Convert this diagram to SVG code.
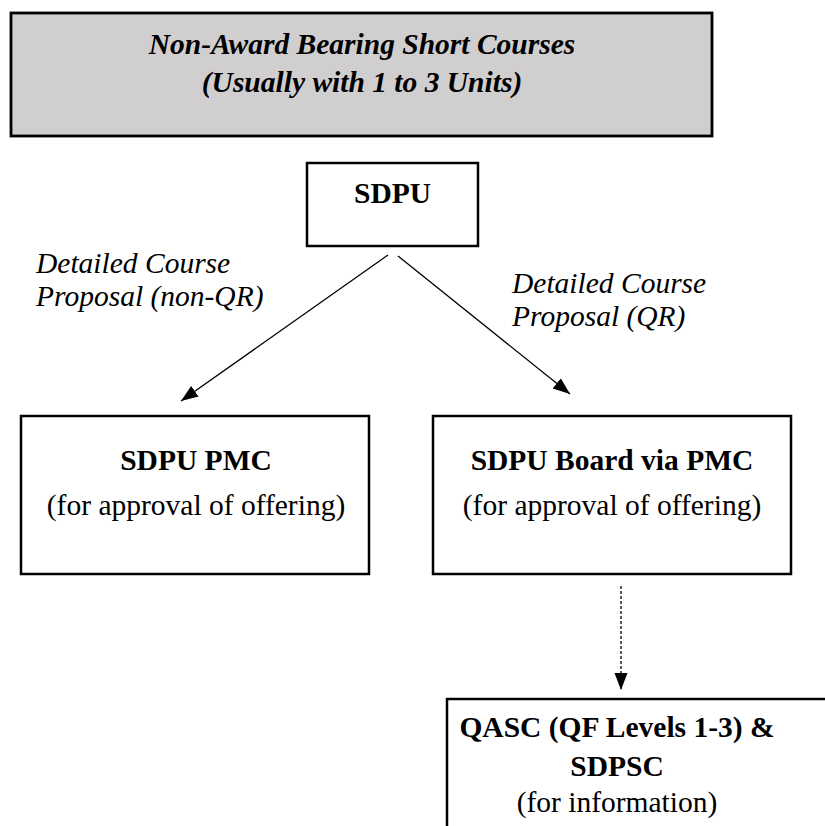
<svg xmlns="http://www.w3.org/2000/svg" width="825" height="826" viewBox="0 0 825 826">
<style>
.box{fill:#fff;stroke:#000;stroke-width:2.5}
.t{font-family:"Liberation Serif","Times New Roman",serif;font-size:29.5px;fill:#000}
.b{font-weight:bold}
.i{font-style:italic}
.c{text-anchor:middle}
.conn{stroke:#000;stroke-width:1.3;fill:none}
</style>
<defs>
<marker id="ah" markerUnits="userSpaceOnUse" markerWidth="18" markerHeight="14" refX="17" refY="6.5" orient="auto">
<path d="M0,0 L17,6.5 L0,13 z" fill="#000" stroke="none"/>
</marker>
</defs>
<rect width="825" height="826" fill="#fff"/>
<g id="header">
<rect x="11" y="13" width="701" height="123" fill="#d0cece" stroke="#000" stroke-width="2.8"/>
<text class="t b i c" x="362" y="54">Non-Award Bearing Short Courses</text>
<text class="t b i c" x="362" y="92">(Usually with 1 to 3 Units)</text>
</g>
<g id="sdpu">
<rect class="box" x="307" y="163" width="171" height="83" stroke-width="2.2"/>
<text class="t b c" x="392.5" y="203">SDPU</text>
</g>
<g id="label-nonqr">
<text class="t i" x="36" y="273">Detailed Course</text>
<text class="t i" x="36" y="306">Proposal (non-QR)</text>
</g>
<g id="label-qr">
<text class="t i" x="512" y="293">Detailed Course</text>
<text class="t i" x="512" y="326">Proposal (QR)</text>
</g>
<g id="sdpu-pmc">
<rect class="box" x="21" y="416" width="348" height="158" stroke-width="2.2"/>
<text class="t b c" x="196" y="470">SDPU PMC</text>
<text class="t c" x="196" y="515">(for approval of offering)</text>
</g>
<g id="sdpu-board">
<rect class="box" x="433" y="416" width="358" height="158" stroke-width="2.8"/>
<text class="t b c" x="612" y="470">SDPU Board via PMC</text>
<text class="t c" x="612" y="515">(for approval of offering)</text>
</g>
<g id="qasc">
<rect class="box" x="447" y="699" width="420" height="160" stroke-width="2.8"/>
<text class="t b c" x="617" y="737">QASC (QF Levels 1-3) &amp;</text>
<text class="t b c" x="617" y="776">SDPSC</text>
<text class="t c" x="617" y="812">(for information)</text>
</g>
<g id="connectors">
<line class="conn" x1="388" y1="255" x2="181" y2="401" marker-end="url(#ah)"/>
<line class="conn" x1="398" y1="256" x2="570" y2="394" marker-end="url(#ah)"/>
<line class="conn" x1="621" y1="586" x2="621" y2="690" stroke-dasharray="3,2" stroke-width="1.1" marker-end="url(#ah)"/>
</g>
</svg>
